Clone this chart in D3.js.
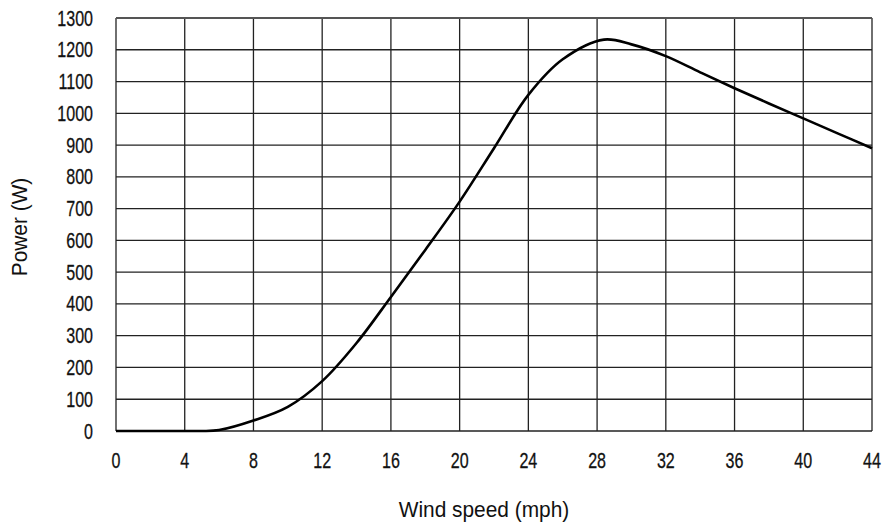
<!DOCTYPE html>
<html>
<head>
<meta charset="utf-8">
<script src="https://cdn.jsdelivr.net/npm/d3@7"></script>
<style>
  body { margin: 0; background: #fff; }
  text { font-family: "Liberation Sans", Arial, sans-serif; fill: #111; }
</style>
</head>
<body>
<script>
// wind speed (mph) and power (W)
var windSpeed = [0, 2, 4, 5, 6, 8, 10, 12, 14, 16, 18, 20, 22, 24, 26, 28.4, 30, 32, 34, 36, 38, 40, 42, 44];
var power     = [0, 0, 0, 0, 3, 33, 76, 157, 277, 422, 570, 722, 890, 1058, 1170, 1232, 1217, 1180, 1129, 1079, 1031, 984, 937, 890];
var xTicks = [0, 4, 8, 12, 16, 20, 24, 28, 32, 36, 40, 44];
var yTicks = [0, 100, 200, 300, 400, 500, 600, 700, 800, 900, 1000, 1100, 1200, 1300];

var w = 884;
var h = 525;
var margin = { left: 116, right: 12, top: 18, bottom: 94 };
var squeeze = 0.73; // condensed look for tick numbers

var svg = d3.select('body').append('svg')
	.attr('width', w)
	.attr('height', h);

var x = d3.scaleLinear().domain([0, 44]).range([margin.left, w - margin.right]);
var y = d3.scaleLinear().domain([0, 1300]).range([h - margin.bottom, margin.top]);

// grid
svg.append('g').selectAll('line')
	.data(xTicks)
	.enter()
	.append('line')
	.attr('x1', function(d) { return x(d); })
	.attr('x2', function(d) { return x(d); })
	.attr('y1', y(0))
	.attr('y2', y(1300))
	.attr('stroke', '#222')
	.attr('stroke-width', 1.3);

svg.append('g').selectAll('line')
	.data(yTicks)
	.enter()
	.append('line')
	.attr('x1', x(0))
	.attr('x2', x(44))
	.attr('y1', function(d) { return y(d); })
	.attr('y2', function(d) { return y(d); })
	.attr('stroke', function(d) { return d == 1300 ? '#555' : '#222'; })
	.attr('stroke-width', function(d) { return d == 1300 ? 1.8 : 1.3; });

// tick labels, squeezed horizontally
svg.append('g').selectAll('text')
	.data(xTicks)
	.enter()
	.append('text')
	.attr('transform', function(d) { return 'translate(' + x(d) + ',' + (y(0) + 37) + ') scale(' + squeeze + ',1)'; })
	.attr('text-anchor', 'middle')
	.attr('font-size', '22px')
	.attr('stroke', '#111')
	.attr('stroke-width', 0.3)
	.text(function(d) { return d; });

svg.append('g').selectAll('text')
	.data(yTicks)
	.enter()
	.append('text')
	.attr('transform', function(d) { return 'translate(' + (x(0) - 23) + ',' + (y(d) + 7.5) + ') scale(' + squeeze + ',1)'; })
	.attr('text-anchor', 'end')
	.attr('font-size', '22px')
	.attr('stroke', '#111')
	.attr('stroke-width', 0.3)
	.text(function(d) { return d; });

// the curve
var line = d3.line()
	.x(function(d, i) { return x(windSpeed[i]); })
	.y(function(d) { return y(d); })
	.curve(d3.curveCatmullRom.alpha(0.5));

svg.append('path')
	.datum(power)
	.attr('d', line)
	.attr('fill', 'none')
	.attr('stroke', '#000')
	.attr('stroke-width', 2.6);

// axis titles
svg.append('text')
	.text('Wind speed (mph)')
	.attr('transform', 'translate(484,517) scale(0.95,1)')
	.attr('text-anchor', 'middle')
	.attr('font-size', '22px');

svg.append('text')
	.text('Power (W)')
	.attr('transform', 'translate(27,227) rotate(-90) scale(0.95,1)')
	.attr('text-anchor', 'middle')
	.attr('font-size', '22px');
</script>
</body>
</html>
